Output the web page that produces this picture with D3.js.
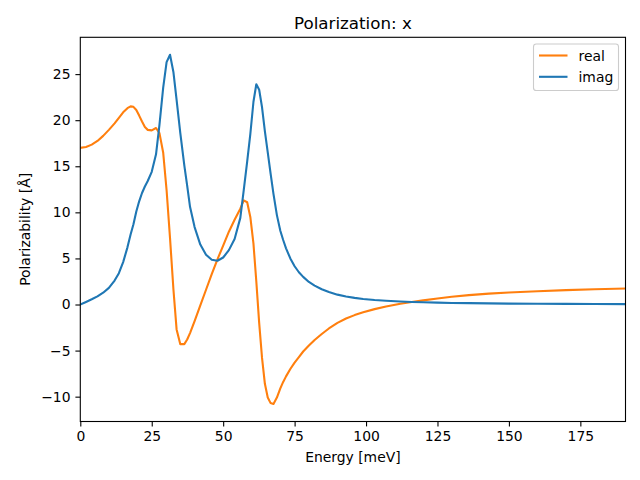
<!DOCTYPE html>
<html>
<head>
<meta charset="utf-8">
<script src="https://cdn.jsdelivr.net/npm/d3@7"></script>
<style>
  html, body { margin: 0; padding: 0; background: #fff; }
  svg { display: block; font-family: "DejaVu Sans", sans-serif; }
</style>
</head>
<body>
<svg id="chart" width="640" height="480"></svg>
<script>
const energy = [0, 2, 4, 6, 8, 10, 12, 13.5, 15, 16.5, 17.6, 18.6, 19.6, 20.6, 21.6, 22.6, 23.6, 25, 26.5, 27.7, 29, 30.2, 31.4, 32.6, 33.7, 35, 36.4, 37.4, 38.4, 40, 42, 44, 46, 48, 50, 52, 54, 56, 57.2, 58.4, 59.5, 60.6, 61.6, 62.6, 63.6, 64.6, 65.6, 66.6, 67.6, 68.8, 70, 71, 72, 73.5, 75, 76.5, 78, 80, 82, 84.5, 87, 90, 93, 96, 99, 103, 107, 112, 116, 120, 125, 130, 136, 143, 150, 160, 170, 180, 190.8];
const realVals = [17.0, 17.1, 17.35, 17.75, 18.3, 18.95, 19.65, 20.25, 20.85, 21.3, 21.5, 21.45, 21.1, 20.5, 19.85, 19.25, 18.95, 18.9, 19.15, 18.6, 16.5, 12.4, 7.2, 1.6, -2.7, -4.3, -4.3, -3.8, -3.1, -1.8, -0.1, 1.6, 3.3, 4.9, 6.4, 7.9, 9.2, 10.4, 11.3, 11.1, 9.5, 6.6, 2.5, -2.0, -5.8, -8.6, -10.1, -10.7, -10.8, -10.1, -9.1, -8.4, -7.8, -7.0, -6.3, -5.7, -5.1, -4.45, -3.85, -3.2, -2.6, -2.0, -1.52, -1.15, -0.85, -0.5, -0.22, 0.08, 0.27, 0.45, 0.65, 0.85, 1.02, 1.18, 1.3, 1.44, 1.56, 1.65, 1.74];
const imagVals = [0, 0.28, 0.57, 0.88, 1.28, 1.8, 2.6, 3.4, 4.6, 6.2, 7.6, 8.7, 10.1, 11.2, 12.1, 12.8, 13.4, 14.4, 16.3, 19.5, 23.5, 26.3, 27.1, 25.2, 22.2, 18.6, 15.1, 12.9, 10.6, 8.4, 6.5, 5.4, 4.85, 4.75, 5.1, 5.9, 7.1, 9.4, 12.4, 15.5, 18.5, 22.0, 23.9, 23.3, 21.4, 18.8, 16.5, 14.2, 12.0, 9.7, 8.0, 7.0, 6.1, 5.0, 4.15, 3.5, 3.0, 2.45, 2.05, 1.65, 1.35, 1.07, 0.87, 0.72, 0.6, 0.49, 0.41, 0.33, 0.28, 0.24, 0.2, 0.17, 0.15, 0.12, 0.1, 0.08, 0.065, 0.05, 0.04];
const xTicks = [0, 25, 50, 75, 100, 125, 150, 175];
const yTicks = [-10, -5, 0, 5, 10, 15, 20, 25];
const seriesNames = ["real", "imag"];
const seriesColors = ["#ff7f0e", "#1f77b4"];

(function () {
const svg = d3.select("#chart");
const pL = 80.3, pR = 625.5, pT = 37.3, pB = 421.5;

const allVals = realVals.concat(imagVals);
const yMin = d3.min(allVals), yMax = d3.max(allVals);
const pad = (yMax - yMin) * 0.05;

const x = d3.scaleLinear().domain([0, d3.max(energy)]).range([pL, pR]);
const y = d3.scaleLinear().domain([yMin - pad, yMax + pad]).range([pB, pT]);

const fmt = v => (v < 0 ? "\u2212" + Math.abs(v) : String(v));

const xAxis = d3.axisBottom(x).tickValues(xTicks).tickSize(4.9).tickPadding(4.9).tickFormat(fmt);
const yAxis = d3.axisLeft(y).tickValues(yTicks).tickSize(4.9).tickPadding(4.9).tickFormat(fmt);

const gx = svg.append("g").attr("transform", `translate(0,${pB})`).call(xAxis);
const gy = svg.append("g").attr("transform", `translate(${pL},0)`).call(yAxis);
[gx, gy].forEach(g => {
  g.select(".domain").remove();
  g.selectAll(".tick line").attr("stroke", "#000").attr("stroke-width", 1.1);
  g.selectAll(".tick text").attr("fill", "#000").style("font-size", "13.9px").style("font-family", "DejaVu Sans, sans-serif");
});

const clipId = "plotclip";
svg.append("clipPath").attr("id", clipId).append("rect")
  .attr("x", pL).attr("y", pT).attr("width", pR - pL).attr("height", pB - pT);

const line = d3.line().x(d => x(d[0])).y(d => y(d[1]));
const series = [realVals, imagVals];
series.forEach((vals, i) => {
  svg.append("path")
    .datum(energy.map((e, j) => [e, vals[j]]))
    .attr("d", line)
    .attr("fill", "none")
    .attr("stroke", seriesColors[i])
    .attr("stroke-width", 2.1)
    .attr("stroke-linejoin", "round")
    .attr("stroke-linecap", "square")
    .attr("clip-path", `url(#${clipId})`);
});

svg.append("rect")
  .attr("x", pL).attr("y", pT).attr("width", pR - pL).attr("height", pB - pT)
  .attr("fill", "none").attr("stroke", "#000").attr("stroke-width", 1.1);

svg.append("text").attr("x", (pL + pR) / 2).attr("y", 29)
  .attr("text-anchor", "middle").style("font-size", "16.7px").text("Polarization: x");
svg.append("text").attr("x", (pL + pR) / 2).attr("y", 462)
  .attr("text-anchor", "middle").style("font-size", "13.9px").text("Energy [meV]");
svg.append("text")
  .attr("transform", `translate(30,${(pT + pB) / 2}) rotate(-90)`)
  .attr("text-anchor", "middle").style("font-size", "13.9px").text("Polarizability [Å]");

const lg = svg.append("g");
lg.append("rect").attr("x", 533.5).attr("y", 44).attr("width", 85).attr("height", 46.5)
  .attr("rx", 2.8).attr("fill", "#fff").attr("fill-opacity", 0.8)
  .attr("stroke", "#cccccc").attr("stroke-width", 1.1);
seriesNames.forEach((name, i) => {
  const cy = 55.5 + i * 21.3;
  lg.append("line").attr("x1", 539).attr("x2", 567.5).attr("y1", cy).attr("y2", cy)
    .attr("stroke", seriesColors[i]).attr("stroke-width", 2.1);
  lg.append("text").attr("x", 578.5).attr("y", cy + 5).style("font-size", "13.9px").text(name);
});
})();
</script>
</body>
</html>
